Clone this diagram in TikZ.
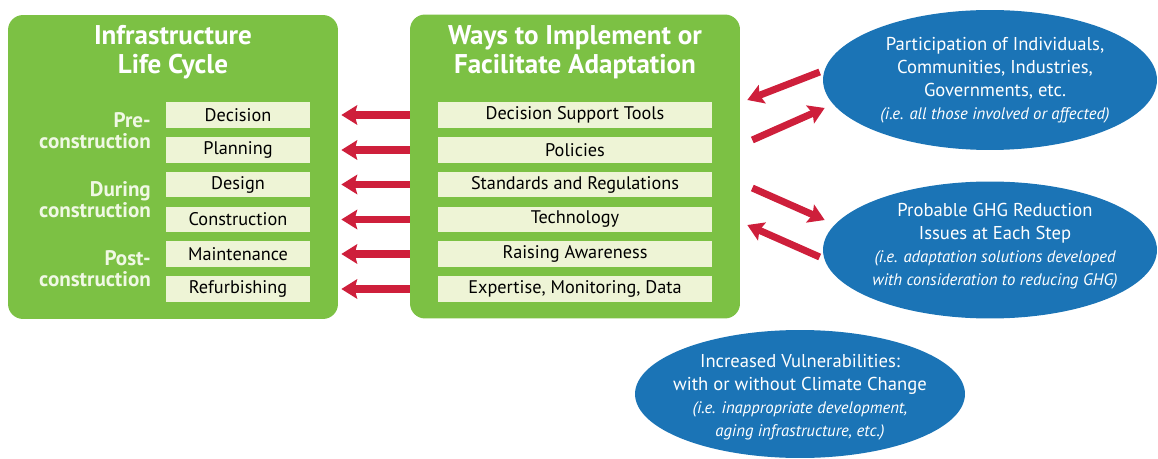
\documentclass[tikz,border=0pt]{standalone}
\usepackage{fontspec}
\setmainfont{PT Sans}
\usepackage{tikz}
\usetikzlibrary{calc,arrows.meta,shapes.geometric}
\definecolor{cyclegreen}{HTML}{7CC144}
\definecolor{itemcream}{HTML}{EEF4D6}
\definecolor{phasetext}{HTML}{F0F8E4}
\definecolor{arrowred}{HTML}{CE1F3B}
\definecolor{bubbleblue}{HTML}{1B74B6}
\newcommand{\notefont}{\fontsize{9.5}{13}\selectfont\itshape}

\begin{document}
\begin{tikzpicture}[x=0.02cm, y=-0.02cm,
    panel/.style={fill=cyclegreen, rounded corners=0.3cm, minimum width=6.6cm, minimum height=6.08cm},
    title/.style={text=white, font=\fontsize{15.4}{16.5}\selectfont\bfseries, align=center},
    phase/.style={text=phasetext, font=\fontsize{12}{12}\selectfont\bfseries, align=right, anchor=east},
    lifeitem/.style={fill=itemcream, minimum width=2.88cm, minimum height=0.52cm, inner sep=0pt, font=\fontsize{10.4}{12}\selectfont},
    wayitem/.style={lifeitem, minimum width=5.48cm},
    bubble/.style={ellipse, fill=bubbleblue, inner sep=0pt},
    bubbletext/.style={text=white, inner sep=0pt, align=center, font=\fontsize{10.6}{13}\selectfont},
    redarrow/.style={draw=arrowred, line width=4pt, -{Stealth[width=11pt,length=9pt,inset=1.5pt]}}]
        \useasboundingbox (0,0) rectangle (1158,459);

        % green panels
        \node[panel] (life) at (173,167) {};
        \node[panel] (ways) at (575,166.5) {};
        \node[title] (lifetitle) at (173,52) {Infrastructure\\Life Cycle};
        \node[title] (waystitle) at (575,52) {Ways to Implement or\\Facilitate Adaptation};

        % phases
        \node[phase] (pre) at (157,131) {Pre-\\construction};
        \node[phase] (during) at (157,200) {During\\construction};
        \node[phase] (post) at (157,269) {Post-\\construction};

        % life cycle steps
        \node[lifeitem] (dec) at (238,115) {Decision};
        \node[lifeitem] (plan) at (238,150) {Planning};
        \node[lifeitem] (des) at (238,184.5) {Design};
        \node[lifeitem] (cons) at (238,219.5) {Construction};
        \node[lifeitem] (main) at (238,254) {Maintenance};
        \node[lifeitem] (refu) at (238,289) {Refurbishing};

        % ways to adapt
        \node[wayitem] (dst) at (575,115) {Decision Support Tools};
        \node[wayitem] (pol) at (575,150) {Policies};
        \node[wayitem] (std) at (575,184.5) {Standards and Regulations};
        \node[wayitem] (tech) at (575,219.5) {Technology};
        \node[wayitem] (aware) at (575,254) {Raising Awareness};
        \node[wayitem] (data) at (575,289) {Expertise, Monitoring, Data};

        % bubbles
        \node[bubble, minimum width=6.68cm, minimum height=2.8cm] (part) at (990,80) {};
        \node[bubbletext] (parttext) at (995,80)
            {Participation of Individuals,\\Communities, Industries,\\Governments, etc.\\{\notefont (i.e. all those involved or affected)}};
        \node[bubble, minimum width=6.68cm, minimum height=2.74cm] (ghg) at (990,250) {};
        \node[bubbletext] (ghgtext) at (995,246)
            {Probable GHG Reduction\\Issues at Each Step\\{\notefont (i.e. adaptation solutions developed}\\{\notefont with consideration to reducing GHG)}};
        \node[bubble, minimum width=6.6cm, minimum height=2.56cm] (vuln) at (800,394) {};
        \node[bubbletext] (vulntext) at (800,397)
            {Increased Vulnerabilities:\\with or without Climate Change\\{\notefont (i.e. inappropriate development,}\\{\notefont aging infrastructure, etc.)}};

        % arrows between panels
        \draw[redarrow] (ways.west |- dst) -- ($(life.east |- dec)+(3,0)$);
        \draw[redarrow] (ways.west |- pol) -- ($(life.east |- plan)+(3,0)$);
        \draw[redarrow] (ways.west |- std) -- ($(life.east |- des)+(3,0)$);
        \draw[redarrow] (ways.west |- tech) -- ($(life.east |- cons)+(3,0)$);
        \draw[redarrow] (ways.west |- aware) -- ($(life.east |- main)+(3,0)$);
        \draw[redarrow] (ways.west |- data) -- ($(life.east |- refu)+(3,0)$);

        % arrows to bubbles
        \draw[redarrow] ($(part.west)+(-3,-8)$) -- ($(ways.east |- part.west)+(7,20)$);
        \draw[redarrow] ($(ways.east |- part.west)+(12,60)$) -- ($(part.west)+(2,28)$);
        \draw[redarrow] ($(ways.east |- ghg.west)+(12,-62)$) -- ($(ghg.west)+(2,-30)$);
        \draw[redarrow] ($(ghg.west)+(-3,7)$) -- ($(ways.east |- ghg.west)+(7,-25)$);
    \end{tikzpicture}
\end{document}
